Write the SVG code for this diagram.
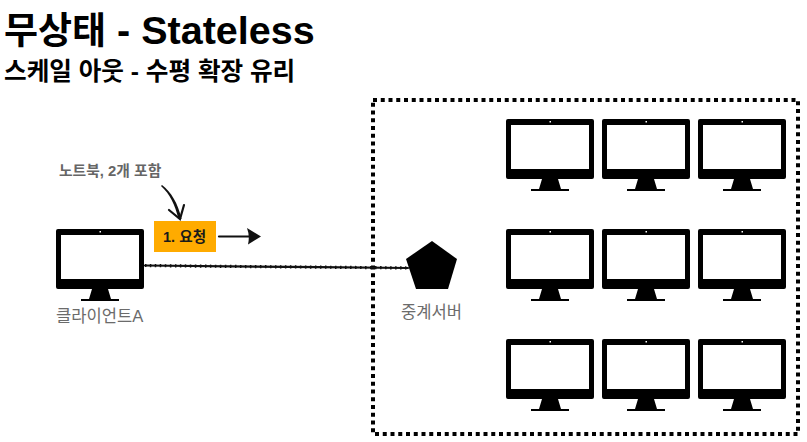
<svg xmlns="http://www.w3.org/2000/svg" width="807" height="442" viewBox="0 0 807 442">
<style>
text{font-family:"Liberation Sans","Noto Sans CJK KR",sans-serif}
.b{font-weight:700;fill:#000}
.g{font-size:16.6px;fill:#6b6b6b}
.l{fill:none;stroke:#111;stroke-linecap:round}
</style>
<defs>
<g id="mon">
<path fill-rule="evenodd" d="M2 0H86Q88 0 88 2V58Q88 60 86 60H2Q0 60 0 58V2Q0 0 2 0ZM5 6V50H83V6Z"/>
<path d="M36 60H52L55 70H63V72H25V70H33Z"/>
<rect x="43.5" y="2" width="1.5" height="1.5" fill="#fff"/>
</g>
</defs>
<rect width="807" height="442" fill="#fff"/>
<g id="title">
<text class="b" x="4" y="44" font-size="37">무상태<tspan font-size="39.500"> - Stateless</tspan></text>
<text class="b" x="4" y="80" font-size="24.600">스케일 아웃 - 수평 확장 유리</text>
</g>
<g id="server-area">
<rect x="373" y="100" width="425" height="334" fill="none" stroke="#000" stroke-width="4" stroke-dasharray="4 3.75"/>
</g>
<g id="connectors">
<path class="l" stroke-width="2.200" d="M145 265.500C220 266.500 320 267 408 268"/>
<path fill="none" stroke="#111" stroke-width="3.200" stroke-dasharray="1.500 3.500" d="M145 265.500C220 266.500 320 267 408 268"/>
<path class="l" stroke-width="2.200" d="M219 236.500L250 236.500"/>
<path d="M247 228L261 236.500L248 244.500Q250 236 247 228Z" fill="#111"/>
<path d="M162 185C171 192 178 203 181.500 219L178.500 219C175 205 170 194 161 186Z" fill="#111"/>
<path class="l" stroke-width="2.200" d="M169 210L180 219L184 205"/>
</g>
<g id="client">
<use href="#mon" x="56" y="229"/>
<text class="g" x="56" y="322">클라이언트A</text>
</g>
<g id="note"><text x="59" y="176" font-size="14.800" font-weight="700" fill="#666">노트북, 2개 포함</text></g>
<g id="request">
<rect x="154" y="221" width="62" height="31" fill="#ffab00"/>
<text x="163" y="241.500" font-size="14.600" font-weight="700" fill="#1a1a1a">1. 요청</text>
</g>
<g id="proxy">
<polygon points="432,241 457,259 448,289 416,289 406,259"/>
<text class="g" x="401" y="318">중계서버</text>
</g>
<g id="s1"><use href="#mon" x="506" y="119"/></g>
<g id="s2"><use href="#mon" x="602" y="119"/></g>
<g id="s3"><use href="#mon" x="698" y="119"/></g>
<g id="s4"><use href="#mon" x="506" y="229"/></g>
<g id="s5"><use href="#mon" x="602" y="229"/></g>
<g id="s6"><use href="#mon" x="698" y="229"/></g>
<g id="s7"><use href="#mon" x="506" y="339"/></g>
<g id="s8"><use href="#mon" x="602" y="339"/></g>
<g id="s9"><use href="#mon" x="698" y="339"/></g>
</svg>
